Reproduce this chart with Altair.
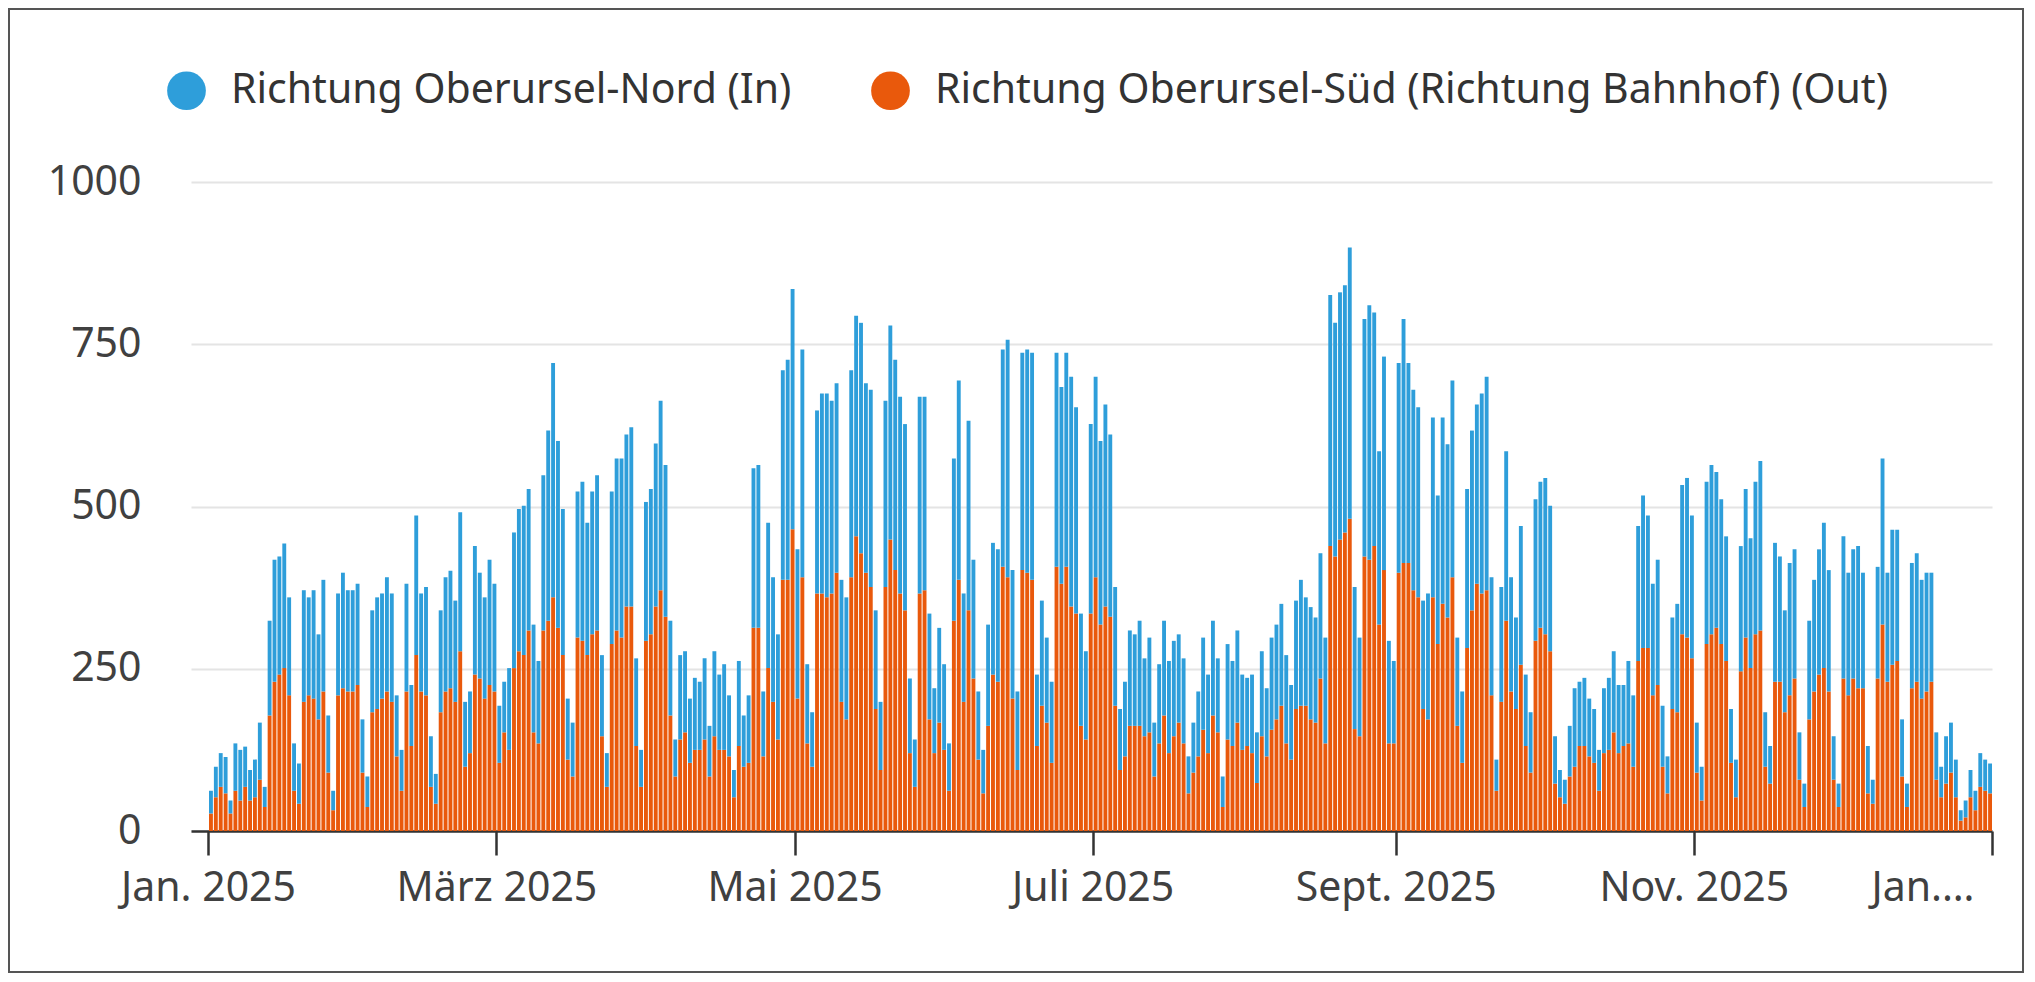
import altair as alt
import pandas as pd

# ---- data (daily counts, 2025) ----
start_date = "2025-01-01"
n_days = 365

# stacked total per day (In + Out)
totals = [
    62, 99, 120, 114, 47, 135, 125, 130, 94, 110,
    167, 68, 324, 418, 423, 443, 360, 135, 104, 371,
    360, 371, 303, 387, 178, 62, 366, 398, 371, 371,
    381, 172, 84, 340, 360, 366, 391, 366, 209, 125,
    381, 225, 486, 366, 376, 146, 88, 340, 391, 401,
    355, 491, 199, 215, 439, 398, 360, 418, 381, 193,
    230, 251, 460, 496, 501, 527, 318, 262, 548, 617,
    721, 601, 496, 204, 167, 523, 538, 475, 523, 548,
    271, 120, 523, 574, 574, 611, 622, 266, 125, 507,
    527, 597, 663, 564, 324, 141, 271, 277, 204, 236,
    230, 266, 162, 277, 241, 257, 209, 94, 262, 178,
    209, 559, 564, 215, 475, 391, 303, 710, 726, 835,
    434, 742, 257, 183, 648, 674, 674, 663, 690, 387,
    360, 710, 794, 783, 690, 680, 340, 199, 663, 779,
    726, 669, 627, 235, 141, 669, 669, 335, 220, 313,
    257, 135, 574, 694, 366, 632, 418, 215, 125, 318,
    444, 434, 742, 757, 402, 215, 737, 742, 737, 241,
    355, 298, 230, 737, 684, 737, 700, 653, 335, 277,
    627, 700, 601, 657, 611, 376, 188, 230, 309, 303,
    324, 266, 298, 167, 257, 324, 262, 293, 303, 266,
    115, 167, 215, 298, 241, 324, 266, 84, 288, 262,
    309, 241, 236, 241, 152, 277, 220, 298, 318, 350,
    271, 225, 355, 387, 360, 345, 329, 428, 298, 826,
    783, 830, 841, 899, 376, 298, 789, 810, 799, 585,
    731, 293, 262, 721, 789, 721, 680, 653, 355, 366,
    637, 517, 637, 596, 694, 298, 215, 527, 617, 657,
    674, 700, 391, 110, 376, 585, 391, 329, 470, 241,
    183, 511, 538, 544, 501, 146, 94, 79, 162, 220,
    230, 236, 204, 188, 125, 220, 236, 277, 225, 225,
    262, 209, 470, 517, 486, 381, 418, 193, 115, 329,
    350, 533, 544, 486, 167, 99, 538, 564, 553, 511,
    454, 188, 110, 439, 527, 451, 538, 570, 183, 131,
    444, 423, 340, 413, 434, 152, 73, 324, 387, 434,
    475, 402, 146, 73, 454, 398, 434, 439, 398, 131,
    79, 407, 574, 398, 464, 464, 172, 73, 413, 428,
    387, 398, 398, 152, 99, 146, 167, 110, 32, 47,
    94, 62, 120, 110, 104,
]

# "Out" (Richtung Oberursel-Süd) per day
out_values = [
    27, 52, 68, 58, 27, 62, 47, 68, 47, 52,
    79, 37, 178, 230, 241, 251, 209, 62, 42, 199,
    209, 204, 172, 215, 90, 32, 209, 220, 215, 215,
    225, 90, 37, 183, 188, 204, 215, 199, 115, 62,
    215, 131, 271, 215, 209, 68, 42, 183, 215, 220,
    199, 277, 99, 120, 241, 235, 204, 225, 215, 105,
    152, 125, 251, 277, 271, 309, 152, 135, 309, 324,
    360, 313, 271, 110, 84, 298, 293, 271, 303, 309,
    146, 68, 288, 309, 298, 346, 346, 131, 68, 293,
    303, 346, 371, 330, 178, 84, 141, 152, 105, 125,
    125, 141, 84, 146, 125, 125, 115, 52, 131, 99,
    105, 313, 313, 115, 251, 199, 141, 387, 387, 465,
    204, 391, 135, 99, 366, 366, 360, 366, 398, 199,
    172, 391, 454, 428, 398, 376, 188, 94, 376, 449,
    402, 366, 340, 120, 68, 366, 371, 172, 120, 167,
    125, 62, 324, 387, 199, 340, 235, 110, 58, 162,
    241, 230, 407, 391, 204, 94, 402, 398, 387, 131,
    193, 167, 105, 407, 381, 407, 346, 335, 162, 141,
    335, 391, 318, 346, 330, 193, 94, 115, 162, 162,
    162, 146, 152, 84, 135, 178, 120, 146, 167, 135,
    58, 90, 115, 156, 120, 178, 152, 37, 141, 131,
    167, 125, 131, 120, 74, 146, 115, 156, 172, 193,
    135, 110, 188, 193, 193, 172, 167, 235, 135, 439,
    423, 449, 460, 481, 157, 146, 423, 418, 439, 318,
    402, 135, 135, 398, 413, 413, 371, 360, 188, 172,
    360, 288, 350, 329, 391, 162, 105, 282, 340, 381,
    366, 371, 209, 62, 199, 324, 215, 188, 256, 131,
    90, 293, 313, 303, 277, 73, 52, 42, 84, 99,
    131, 131, 115, 105, 62, 120, 125, 152, 120, 131,
    135, 99, 262, 282, 282, 209, 225, 99, 58, 188,
    183, 303, 298, 266, 90, 47, 288, 303, 313, 288,
    262, 105, 52, 246, 298, 251, 303, 309, 99, 73,
    230, 230, 183, 209, 235, 79, 37, 172, 215, 241,
    251, 215, 79, 37, 235, 209, 235, 220, 220, 58,
    42, 235, 318, 230, 256, 262, 84, 37, 220, 230,
    204, 215, 230, 79, 52, 73, 90, 52, 16, 21,
    52, 32, 68, 62, 58,
]

# "In" = stacked total minus the "Out" segment
in_values = [t - o for t, o in zip(totals, out_values)]

series_in = "Richtung Oberursel-Nord (In)"
series_out = "Richtung Oberursel-Süd (Richtung Bahnhof) (Out)"
series_names = [series_in, series_out]
series_colors = ["#2E9EDA", "#E9590C"]

tick_keys = ["2025-01", "2025-03", "2025-05", "2025-07", "2025-09", "2025-11", "2026-01"]
tick_labels = ["Jan. 2025", "März 2025", "Mai 2025", "Juli 2025", "Sept. 2025", "Nov. 2025", "Jan.…"]
y_ticks = [0, 250, 500, 750, 1000]

# ---- table ----
dates = pd.date_range(start_date, periods=n_days, freq="D").strftime("%Y-%m-%d").tolist()
rows = []
for d, vi, vo in zip(dates, in_values, out_values):
    rows.append({"date": d, "series": series_out, "value": vo, "stackorder": 0})
    rows.append({"date": d, "series": series_in, "value": vi, "stackorder": 1})
df = pd.DataFrame(rows)

FONT = "Noto Sans"
FS = 41

tick_values = [
    alt.DateTime(year=int(k[:4]), month=int(k[5:]), date=1, utc=True) for k in tick_keys
]
label_map = "{" + ",".join(f"'{k}':'{v}'" for k, v in zip(tick_keys, tick_labels)) + "}"
label_expr = f"{label_map}[utcFormat(datum.value, '%Y-%m')]"

bars = alt.Chart(df).mark_bar().encode(
    x=alt.X(
        "utcyearmonthdate(date):T",
        scale=alt.Scale(
            type="utc",
            domain=[
                alt.DateTime(year=2024, month=12, date=28, hours=12, minutes=30, utc=True),
                alt.DateTime(year=2026, month=1, date=1, utc=True),
            ],
        ),
        axis=alt.Axis(
            title=None,
            values=tick_values,
            labelExpr=label_expr,
            grid=False,
            domain=True,
            domainColor="#333333",
            domainWidth=2.5,
            ticks=True,
            tickColor="#333333",
            tickWidth=2.5,
            tickSize=24,
            labelPadding=13,
            labelFont=FONT,
            labelFontSize=FS,
            labelColor="#404040",
            labelFlush=5,
            labelFlushOffset=-18,
            labelOverlap=False,
            labelLimit=400,
        ),
    ),
    y=alt.Y(
        "value:Q",
        stack="zero",
        scale=alt.Scale(domain=[0, 1000], nice=False),
        axis=alt.Axis(
            title=None,
            values=y_ticks,
            format="d",
            domain=False,
            ticks=False,
            grid=True,
            gridColor="#e4e4e4",
            gridWidth=2,
            labelPadding=50,
            labelFont=FONT,
            labelFontSize=FS,
            labelColor="#404040",
        ),
    ),
    color=alt.Color(
        "series:N",
        scale=alt.Scale(domain=series_names, range=series_colors),
        legend=alt.Legend(
            title=None,
            orient="none",
            direction="horizontal",
            legendX=-25,
            legendY=-112,
            symbolType="circle",
            symbolSize=1500,
            symbolStrokeWidth=0,
            symbolOpacity=1,
            labelFont=FONT,
            labelFontSize=FS,
            labelColor="#333333",
            labelOffset=24,
            columnPadding=78,
            labelLimit=1200,
        ),
    ),
    order=alt.Order("stackorder:Q", sort="ascending"),
)

frame = alt.Chart(pd.DataFrame({"k": [0]})).mark_rect(
    fill="transparent", stroke="#555555", strokeWidth=2
).encode(
    x=alt.value(-182),
    x2=alt.value(1832),
    y=alt.value(-173),
    y2=alt.value(790),
)

chart = alt.layer(bars, frame).properties(
    width=1801,
    height=649,
    autosize=alt.AutoSizeParams(type="none"),
    padding={"left": 183, "top": 174, "right": 34, "bottom": 142},
    background="white",
).configure_view(stroke=None)

chart.save("out.html", embed_options={"renderer": "svg", "actions": False})
